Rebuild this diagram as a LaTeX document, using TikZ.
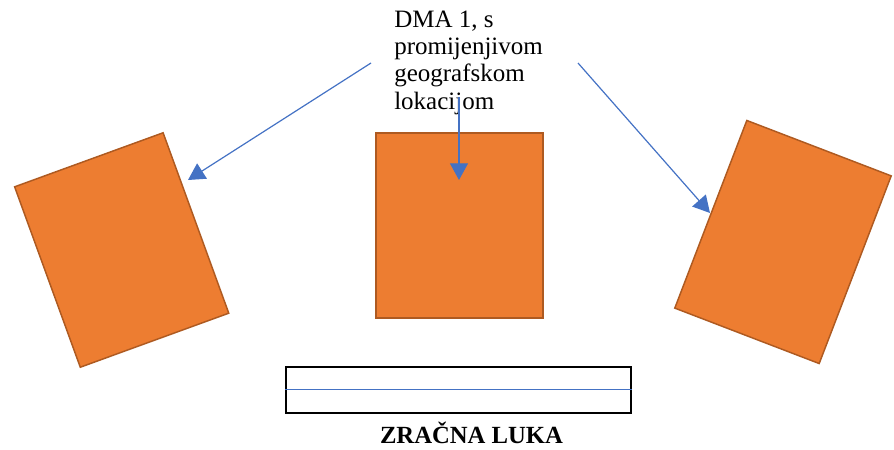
\documentclass[tikz,border=0pt]{standalone}
\usepackage{fontspec}
\setmainfont{Liberation Serif}
\usepackage{tikz}
\usetikzlibrary{positioning}
\usetikzlibrary{arrows.meta}
\definecolor{dmaFill}{HTML}{ED7D31}
\definecolor{dmaEdge}{HTML}{AE5A21}
\definecolor{lineBlue}{HTML}{4472C4}
\tikzset{dma/.style={rectangle, draw=dmaEdge, fill=dmaFill, line width=1.1pt, inner sep=0pt}}
\tikzset{strip/.style={rectangle, draw=black, line width=1.5pt, inner sep=0pt, minimum width=258.75pt, minimum height=34.5pt}}
\tikzset{pointer/.style={draw=lineBlue, line width=0.9pt, -{Triangle[length=12.5pt, width=13.5pt]}}}

\begin{document}
\begin{tikzpicture}[x=0.75pt, y=-0.75pt]
    \useasboundingbox (0,0) rectangle (894,450);

    \node [dma, minimum width=118.5pt, minimum height=144pt, rotate=20] (dmaLeft) at (121.7,250) {};
    \node [dma, minimum width=125.25pt, minimum height=138.75pt] (dmaMid) at (459.5,225.5) {};
    \node [dma, minimum width=116pt, minimum height=150.75pt, rotate=-21] (dmaRight) at (783,242) {};

    \node [anchor=north west, inner sep=0pt, align=left,
        font=\fontsize{18.75pt}{20.5pt}\selectfont] (dmaText) at (394,10.5)
        {DMA 1, s\\promijenjivom\\geografskom\\lokacijom};

    \coordinate (fromLeft) at (371,63);
    \coordinate (fromMid) at (459,97);
    \coordinate (fromRight) at (578,63);
    \coordinate (toLeft) at (188,180);
    \coordinate (toMid) at (459,180);
    \coordinate (toRight) at (710,213);

    \draw [pointer] (fromLeft) -- (toLeft);
    \draw [pointer] (fromMid) -- (toMid);
    \draw [pointer] (fromRight) -- (toRight);

    \node [strip] (runway) at (458.75,389.5) {};
    \draw [lineBlue, line width=1pt] (runway.west) -- (runway.east);
    \node [anchor=base, inner sep=0pt, font=\fontsize{18.5pt}{21pt}\selectfont\bfseries] (airportLabel) at (471.5,443) {ZRAČNA LUKA};

\end{tikzpicture}
\end{document}
